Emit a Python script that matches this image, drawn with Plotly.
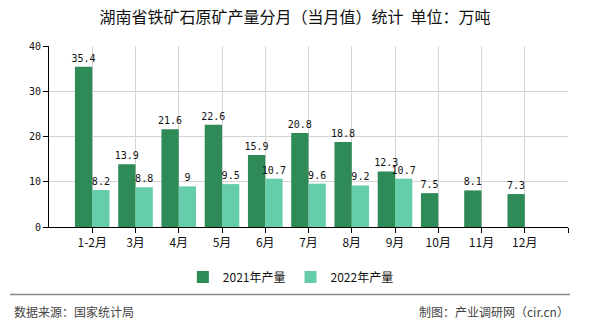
import plotly.graph_objects as go

months = ["1-2月", "3月", "4月", "5月", "6月", "7月", "8月", "9月", "10月", "11月", "12月"]
prod_2021 = [35.4, 13.9, 21.6, 22.6, 15.9, 20.8, 18.8, 12.3, 7.5, 8.1, 7.3]
prod_2022 = [8.2, 8.8, 9, 9.5, 10.7, 9.6, 9.2, 10.7]
series_names = ["2021年产量", "2022年产量"]
y_ticks = [0, 10, 20, 30, 40]

title_text = "湖南省铁矿石原矿产量分月（当月值）统计  单位：万吨"
source_text = "数据来源：国家统计局"
credit_text = "制图：产业调研网（cir.cn）"

CJK = "Noto Sans CJK SC"
MONO = "DejaVu Sans Mono"

x_pos = list(range(len(months)))

fig = go.Figure()
fig.add_trace(go.Bar(
    x=x_pos, y=prod_2021, name=series_names[0],
    marker=dict(color="#2E8B57", line=dict(width=0)),
    text=[str(v) for v in prod_2021], textposition="outside",
    constraintext="none",
    textfont=dict(family=MONO, size=10, color="#111"),
    cliponaxis=False,
))
fig.add_trace(go.Bar(
    x=x_pos[:len(prod_2022)], y=prod_2022, name=series_names[1],
    marker=dict(color="#66CDAA", line=dict(width=0)),
    text=[str(v) for v in prod_2022], textposition="outside",
    constraintext="none",
    textfont=dict(family=MONO, size=10, color="#111"),
    cliponaxis=False,
))

fig.update_layout(
    width=590, height=330,
    margin=dict(l=49, r=22, t=46, b=100),
    paper_bgcolor="white", plot_bgcolor="white",
    barmode="group", bargap=0.2, bargroupgap=0,
    title=dict(text=title_text, x=0.5, xref="container", xanchor="center",
               y=1 - 17 / 330, yref="container", yanchor="middle",
               font=dict(family=CJK, size=16, color="#111")),
    legend=dict(orientation="h", xref="container", x=0.493, xanchor="center",
                yref="container", y=1 - 277 / 330, yanchor="middle",
                font=dict(family=CJK, size=12, color="#111"),
                itemwidth=30, traceorder="normal"),
    showlegend=True,
    xaxis=dict(
        range=[-1, len(months)],
        tickmode="array",
        tickvals=list(range(len(months) + 1)),
        ticktext=months + [""],
        showgrid=True, gridcolor="#d4d4d4", gridwidth=1,
        showline=True, linecolor="#000", linewidth=1,
        ticks="outside", ticklen=5, tickcolor="#000",
        tickfont=dict(family=CJK, size=12, color="#111"),
        zeroline=False, fixedrange=True,
    ),
    yaxis=dict(
        range=[0, 40],
        tickmode="array", tickvals=y_ticks,
        showgrid=True, gridcolor="#d4d4d4", gridwidth=1,
        showline=True, linecolor="#000", linewidth=1,
        ticks="outside", ticklen=5, tickcolor="#000",
        tickfont=dict(family=MONO, size=10, color="#111"),
        zeroline=False, fixedrange=True,
    ),
)

plot_h = 330 - 46 - 100
plot_w = 590 - 49 - 22

def px_x(px):
    return (px - 49) / plot_w

def px_y(py):
    return (330 - 100 - py) / plot_h

fig.add_shape(type="line", xref="paper", yref="paper",
              x0=px_x(10), x1=px_x(570), y0=px_y(298.5), y1=px_y(298.5),
              line=dict(color="#888", width=1.5))

fig.add_annotation(text=source_text, xref="paper", yref="paper",
                   x=px_x(12), y=px_y(316), xanchor="left", yanchor="middle",
                   showarrow=False, font=dict(family=CJK, size=12, color="#444"))
fig.add_annotation(text=credit_text, xref="paper", yref="paper",
                   x=px_x(571), y=px_y(316), xanchor="right", yanchor="middle",
                   showarrow=False, font=dict(family=CJK, size=12, color="#444"))

fig.write_html("out.html")
